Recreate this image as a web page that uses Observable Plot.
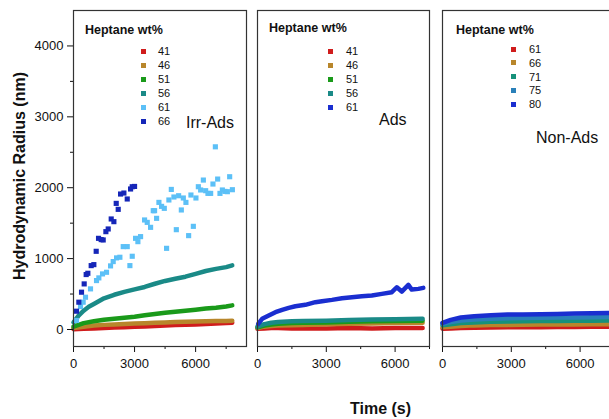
<!DOCTYPE html>
<html>
<head>
<meta charset="utf-8">
<script src="https://cdn.jsdelivr.net/npm/d3@7"></script>
<script src="https://cdn.jsdelivr.net/npm/@observablehq/plot@0.6"></script>
<style>
  html, body { margin: 0; padding: 0; background: #fff; overflow: hidden; }
  #wrap { position: relative; width: 609px; height: 419px; overflow: hidden; font-family: "Liberation Sans", Arial, sans-serif; color: #111; }
  .panel { position: absolute; top: 0; }
  .panel svg { max-width: none !important; }
  .lab { position: absolute; white-space: nowrap; }
  .legtitle { position: absolute; font-weight: bold; font-size: 12.5px; white-space: nowrap; }
  .legrow { position: absolute; font-size: 11px; white-space: nowrap; line-height: 12px; }
  .sw { position: absolute; width: 5px; height: 5px; }
</style>
</head>
<body>
<div id="wrap"></div>
<script>
// ---------- Panel 1: Irr-Ads (Heptane wt% 41..66) ----------
const irrLabels = ["41", "46", "51", "56", "61", "66"];
const irrColors = ["#d01c1c", "#b8862b", "#1a9a1a", "#1a8a87", "#5cc0f7", "#1526b8"];

const irrT_dense = [0, 500, 1000, 1500, 2000, 2500, 3000, 3500, 4000, 4500, 5000, 5500, 6000, 6500, 7000, 7500, 7800];
const irrR41 = [5, 12, 15, 20, 28, 33, 38, 43, 48, 55, 62, 67, 72, 78, 85, 90, 95];
const irrR46 = [20, 40, 55, 65, 72, 78, 83, 88, 94, 100, 105, 108, 112, 115, 118, 120, 122];
const irrR51 = [40, 90, 115, 137, 152, 165, 180, 200, 218, 235, 250, 265, 280, 295, 308, 325, 340];
const irrT56 = [0, 250, 500, 750, 1000, 1500, 2000, 2500, 3000, 3500, 4000, 4500, 5000, 5500, 6000, 6500, 7000, 7500, 7800];
const irrR56 = [100, 195, 265, 320, 360, 440, 490, 530, 565, 600, 645, 685, 715, 745, 785, 825, 855, 880, 905];

const irrT61 = [148, 344, 475, 590, 836, 1131, 1246, 1426, 1623, 1820, 1951, 2115, 2279, 2443, 2640, 2771, 2886, 3050, 3164, 3296, 3492, 3623, 3788, 3918, 3984, 4083, 4197, 4328, 4461, 4574, 4687, 4806, 4934, 5052, 5165, 5298, 5396, 5524, 5657, 5770, 5888, 6016, 6134, 6247, 6380, 6493, 6606, 6739, 6852, 6970, 7083, 7196, 7314, 7442, 7560, 7673, 7806];
const irrR61 = [127, 324, 385, 455, 573, 690, 728, 784, 807, 897, 958, 1010, 1019, 1169, 1169, 901, 1033, 1286, 1239, 1310, 1545, 1511, 1441, 1676, 1676, 1568, 1793, 1737, 1709, 1145, 1827, 1976, 1869, 1408, 1887, 1686, 1855, 1793, 1324, 1897, 1455, 1855, 2014, 1968, 2108, 1958, 1920, 1920, 2052, 2577, 2122, 1920, 1968, 1948, 1944, 2155, 1972];

const irrT66 = [148, 262, 394, 525, 623, 705, 869, 1000, 1115, 1230, 1361, 1459, 1591, 1705, 1853, 1984, 2099, 2197, 2312, 2476, 2640, 2804, 2886, 3000];
const irrR66 = [258, 385, 526, 643, 775, 793, 901, 915, 1103, 1286, 1268, 1263, 1380, 1418, 1559, 1521, 1779, 1695, 1911, 1925, 1841, 1982, 2014, 2018];

// ---------- Panel 2: Ads (Heptane wt% 41..61) ----------
const adsLabels = ["41", "46", "51", "56", "61"];
const adsColors = ["#d01c1c", "#b8862b", "#1a9a1a", "#1a8a87", "#1a2ed0"];
const adsT_dense = [0, 300, 600, 900, 1500, 2000, 3000, 4000, 5000, 6000, 7200];
const adsR41 = [10, 15, 20, 20, 15, 15, 15, 20, 15, 20, 20];
const adsR46 = [20, 40, 50, 55, 60, 65, 75, 80, 85, 90, 95];
const adsR51 = [30, 55, 70, 80, 90, 95, 100, 110, 115, 120, 125];
const adsR56 = [40, 75, 95, 105, 115, 120, 125, 135, 140, 145, 150];
const adsT61 = [29, 203, 491, 783, 1074, 1361, 1652, 2087, 2522, 2813, 3248, 3683, 4117, 4552, 4987, 5422, 5857, 6074, 6291, 6578, 6726, 7013, 7230];
const adsR61 = [80, 150, 197, 244, 277, 305, 328, 348, 385, 399, 418, 441, 455, 469, 479, 502, 526, 596, 535, 629, 563, 573, 587];

// ---------- Panel 3: Non-Ads (Heptane wt% 61..80) ----------
const nonLabels = ["61", "66", "71", "75", "80"];
const nonColors = ["#d01c1c", "#b8862b", "#16917a", "#2a80b9", "#1a2ed0"];
const nonT = [0, 360, 800, 1380, 2110, 2840, 3500, 4290, 5000, 5750, 6500, 7200, 7600];
const nonR61 = [10, 15, 20, 25, 28, 30, 32, 33, 35, 36, 37, 38, 39];
const nonR66 = [30, 40, 50, 58, 62, 65, 67, 69, 70, 72, 73, 75, 76];
const nonR71 = [60, 75, 90, 100, 108, 112, 115, 118, 120, 122, 124, 126, 127];
const nonR75 = [80, 105, 125, 140, 150, 158, 162, 165, 168, 170, 172, 175, 176];
const nonR80 = [94, 136, 170, 188, 200, 210, 212, 216, 220, 225, 228, 232, 235];

// ---------- Axes ----------
const yMajor = [0, 1000, 2000, 3000, 4000];
const yMinor = [500, 1500, 2500, 3500];
const xMajor = [0, 3000, 6000];
const xMinor = [1500, 4500, 7500];

const pairs = (ts, vs) => ts.map((t, i) => ({t, v: vs[i]}));
const yDomain = [-240, 4500];
const H = 380;
const plain = d => String(d);

function denseLine(ts, vs, color) {
  return Plot.line(pairs(ts, vs), {x: "t", y: "v", stroke: color, strokeWidth: 4.5, strokeLinejoin: "round"});
}
function sparseDots(ts, vs, color) {
  return Plot.dot(pairs(ts, vs), {x: "t", y: "v", symbol: "square", r: 2.9, fill: color, stroke: "none"});
}
function axes(showY) {
  const m = [
    Plot.axisX({ticks: xMajor, tickSize: 6, tickPadding: 6, tickFormat: plain, label: null, fontSize: 13}),
    Plot.axisX({ticks: xMinor, tickSize: 3, tickFormat: () => "", label: null})
  ];
  if (showY) {
    m.push(Plot.axisY({ticks: yMajor, tickSize: 6, tickPadding: 4, tickFormat: plain, label: null, fontSize: 13}));
    m.push(Plot.axisY({ticks: yMinor, tickSize: 3, tickFormat: () => "", label: null}));
  }
  return m;
}
const baseStyle = {fontFamily: "Liberation Sans, Arial, sans-serif", fontSize: "13px", color: "#111", background: "transparent", overflow: "visible", maxWidth: "none"};

const p1 = Plot.plot({
  width: 250, height: H, marginLeft: 73, marginRight: 4, marginTop: 10, marginBottom: 34,
  style: baseStyle,
  x: {domain: [0, 8500], axis: null}, y: {domain: yDomain, axis: null},
  marks: [
    denseLine(irrT_dense, irrR41, irrColors[0]),
    denseLine(irrT_dense, irrR46, irrColors[1]),
    denseLine(irrT_dense, irrR51, irrColors[2]),
    denseLine(irrT56, irrR56, irrColors[3]),
    sparseDots(irrT61, irrR61, irrColors[4]),
    sparseDots(irrT66, irrR66, irrColors[5]),
    ...axes(true),
    Plot.frame({stroke: "#333", strokeWidth: 1.2})
  ]
});

const p2 = Plot.plot({
  width: 183, height: H, marginLeft: 7, marginRight: 4, marginTop: 10, marginBottom: 34,
  style: baseStyle,
  x: {domain: [0, 7500], axis: null}, y: {domain: yDomain, axis: null},
  marks: [
    denseLine(adsT_dense, adsR41, adsColors[0]),
    denseLine(adsT_dense, adsR46, adsColors[1]),
    denseLine(adsT_dense, adsR51, adsColors[2]),
    denseLine(adsT_dense, adsR56, adsColors[3]),
    denseLine(adsT61, adsR61, adsColors[4]),
    ...axes(false),
    Plot.frame({stroke: "#333", strokeWidth: 1.2})
  ]
});

const p3 = Plot.plot({
  width: 183, height: H, marginLeft: 7, marginRight: 4, marginTop: 10, marginBottom: 34,
  style: baseStyle,
  x: {domain: [0, 7500], axis: null}, y: {domain: yDomain, axis: null},
  marks: [
    denseLine(nonT, nonR61, nonColors[0]),
    denseLine(nonT, nonR66, nonColors[1]),
    denseLine(nonT, nonR71, nonColors[2]),
    denseLine(nonT, nonR75, nonColors[3]),
    denseLine(nonT, nonR80, nonColors[4]),
    ...axes(false),
    Plot.frame({stroke: "#333", strokeWidth: 1.2})
  ]
});

const wrap = document.getElementById("wrap");
function place(el, left, w) {
  const d = document.createElement("div");
  d.className = "panel";
  d.style.left = left + "px";
  d.style.width = w + "px";
  el.style.maxWidth = "none";
  d.appendChild(el);
  wrap.appendChild(d);
}
place(p1, 0, 250);
place(p2, 250, 183);
place(p3, 435, 183);

function addText(txt, left, top, css) {
  const d = document.createElement("div");
  d.className = "lab";
  d.textContent = txt;
  d.style.left = left + "px";
  d.style.top = top + "px";
  Object.assign(d.style, css || {});
  wrap.appendChild(d);
  return d;
}

// Legends
function legend(labels, colors, titleX, titleY, swX, textX, rowY, step) {
  const t = document.createElement("div");
  t.className = "legtitle";
  t.textContent = "Heptane wt%";
  t.style.left = titleX + "px";
  t.style.top = titleY + "px";
  wrap.appendChild(t);
  labels.forEach((lab, i) => {
    const cy = rowY + i * step;
    const s = document.createElement("div");
    s.className = "sw";
    s.style.left = (swX - 2.5) + "px";
    s.style.top = (cy - 2.5) + "px";
    s.style.background = colors[i];
    wrap.appendChild(s);
    const r = document.createElement("div");
    r.className = "legrow";
    r.textContent = lab;
    r.style.left = textX + "px";
    r.style.top = (cy - 6) + "px";
    wrap.appendChild(r);
  });
}
legend(irrLabels, irrColors, 85, 23, 143, 158, 51, 14);
legend(adsLabels, adsColors, 269, 21, 330, 346, 51, 14);
legend(nonLabels, nonColors, 456, 23, 513, 529, 49, 13.8);

// Panel annotations
addText("Irr-Ads", 186, 114, {fontSize: "16px"});
addText("Ads", 379, 111, {fontSize: "16px"});
addText("Non-Ads", 536, 129, {fontSize: "16px"});

// Axis titles
addText("Time (s)", 350, 400, {fontSize: "16px", fontWeight: "bold"});
const yl = addText("Hydrodynamic Radius (nm)", 20, 176, {fontSize: "16px", fontWeight: "bold"});
yl.style.transform = "translate(-50%, -50%) rotate(-90deg)";
</script>
</body>
</html>
